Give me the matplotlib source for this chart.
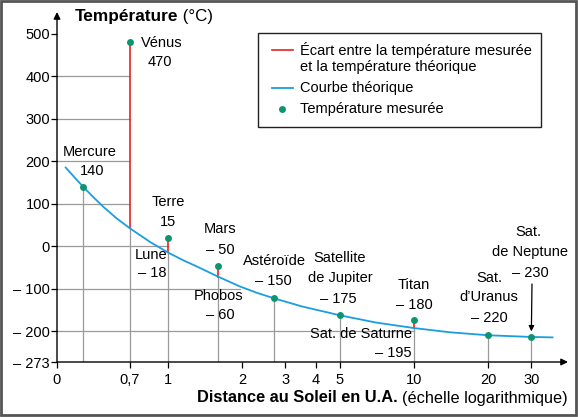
import matplotlib
matplotlib.use('Agg')
import matplotlib.pyplot as plt
from matplotlib.transforms import Affine2D
from matplotlib.patches import Rectangle
from matplotlib.lines import Line2D

plt.rcParams['font.family'] = ['Liberation Sans', 'DejaVu Sans']

# ---- data ----
dist = [0.45, 0.7, 1.0, 1.6, 2.7, 5.0, 10.0, 20.0, 30.0]
measured = [140, 482, 18, -47, -123, -163, -173, -210, -214]
curve_x = [0.384, 0.42, 0.45, 0.5, 0.55, 0.62, 0.7, 0.85, 1.0, 1.15, 1.3, 1.6, 1.96, 2.3, 2.7,
           3.5, 5.0, 7.0, 10.0, 14.0, 20.0, 30.0, 36.6]
curve_y = [185, 160, 141, 114, 91, 65, 42, 9, -15, -33, -47, -72, -95, -110, -123,
           -142, -163, -180, -193, -203, -210, -214, -215]
gap_x = [0.7, 1.0, 1.6, 10.0]
gap_meas = [482, 18, -47, -173]
gap_theo = [42, -15, -72, -193]
grid_y = [400, 300, 200, 100, 0, -100, -200]
grid_end = [0.7, 0.7, 0.7, 0.7, 1.0, 1.96, 10.0]
yticks = [500, 400, 300, 200, 100, 0, -100, -200, -273]
ytick_labels = ['500', '400', '300', '200', '100', '0', '– 100', '– 200', '– 273']
xticks = [0.7, 1, 2, 3, 4, 5, 10, 20, 30]
xtick_labels = ['0,7', '1', '2', '3', '4', '5', '10', '20', '30']

W, H = 578, 417
fig = plt.figure(figsize=(W / 100, H / 100), dpi=100)
pix = Affine2D().scale(1, -1).translate(0, H)

x0, x1, ytop, ybot = 57, 568, 12, 362
ax = fig.add_axes([x0 / W, (H - ybot) / H, (x1 - x0) / W, (ybot - ytop) / H])
ax.set_xscale('log')
xmin, xmax = 0.354, 42.3
ymin, ymax = -273, 551.5
ax.set_xlim(xmin, xmax)
ax.set_ylim(ymin, ymax)
for s in ax.spines.values():
    s.set_visible(False)

RED, BLUE, GREEN, GRAY = '#e52521', '#1a9ee0', '#0d9470', '#9a9a9a'

# grid lines
for gy, ge in zip(grid_y, grid_end):
    ax.plot([xmin, ge], [gy, gy], color=GRAY, lw=0.9, zorder=1)
# drop lines
for dx, dm in zip(dist, measured):
    top = dm
    if dx in gap_x:
        top = gap_theo[gap_x.index(dx)]
    ax.plot([dx, dx], [ymin, top], color=GRAY, lw=0.9, zorder=1)
# gaps
for gx, gm, gt in zip(gap_x, gap_meas, gap_theo):
    ax.plot([gx, gx], [gt, gm], color=RED, lw=1.2, zorder=2)
# curve
ax.plot(curve_x, curve_y, color=BLUE, lw=1.3, zorder=3)
# points
ax.plot(dist, measured, 'o', color=GREEN, ms=5, zorder=4, markeredgewidth=0)

# axes with arrows
ax.annotate('', xy=(1, 0), xytext=(0, 0), xycoords='axes fraction',
            arrowprops=dict(arrowstyle='-|>', color='black', lw=1.0, mutation_scale=10, shrinkA=0, shrinkB=0))
ax.annotate('', xy=(0, 1), xytext=(0, 0), xycoords='axes fraction',
            arrowprops=dict(arrowstyle='-|>', color='black', lw=1.0, mutation_scale=10, shrinkA=0, shrinkB=0))

ax.set_yticks(yticks)
ax.set_yticklabels(ytick_labels)
ax.set_xticks([xmin] + xticks)
ax.set_xticklabels(['0'] + xtick_labels)
ax.xaxis.set_minor_locator(matplotlib.ticker.NullLocator())
ax.tick_params(axis='both', labelsize=10.5, length=4, width=0.9, color='black')
ax.tick_params(axis='x', direction='out', pad=4)
ax.tick_params(axis='y', direction='out', pad=1)

# labels on points (pixel positions)
labels = [
    ('Vénus', 141, 43, 'left'), ('470', 160, 62, 'center'),
    ('Mercure', 90, 152, 'center'), ('140', 92, 171, 'center'),
    ('Terre', 168, 202, 'center'), ('15', 168, 222, 'center'),
    ('Lune', 151, 255, 'center'), ('– 18', 152, 273, 'center'),
    ('Mars', 220, 229, 'center'), ('– 50', 220, 250, 'center'),
    ('Phobos', 219, 296, 'center'), ('– 60', 220, 315, 'center'),
    ('Astéroïde', 274, 261, 'center'), ('– 150', 273, 281, 'center'),
    ('Satellite', 340, 258, 'center'), ('de Jupiter', 340, 278, 'center'),
    ('– 175', 338, 299, 'center'),
    ('Sat. de Saturne', 412, 334, 'right'), ('– 195', 412, 353, 'right'),
    ('Titan', 414, 285, 'center'), ('– 180', 414, 305, 'center'),
    ('Sat.', 489, 278, 'center'), ('d’Uranus', 489, 297, 'center'), ('– 220', 489, 318, 'center'),
    ('Sat.', 528, 232, 'center'), ('de Neptune', 530, 252, 'center'), ('– 230', 530, 273, 'center'),
]
for s, px, py, ha in labels:
    fig.text(px, py, s, transform=pix, ha=ha, va='center', fontsize=10.5)

# Neptune arrow
ax.annotate('', xy=(30, -214), xytext=(532, 284), textcoords=pix,
            arrowprops=dict(arrowstyle='-|>', color='black', lw=0.9, mutation_scale=8,
                            shrinkA=0, shrinkB=4))

# title
t1 = fig.text(75, 17, 'Température', transform=pix, ha='left', va='center',
              fontsize=12.4, fontweight='bold')
ax.annotate(' (°C)', xy=(1, 0), xycoords=t1, ha='left', va='bottom', fontsize=12.2)

# x label
t2 = fig.text(568, 398, '(échelle logarithmique)', transform=pix, ha='right', va='center', fontsize=11.7)
ax.annotate('Distance au Soleil en U.A. ', xy=(0, 0), xycoords=t2, ha='right', va='bottom',
            fontsize=11.8, fontweight='bold')

# legend box
fig.patches.append(Rectangle((258, 33), 283, 94, transform=pix, fill=False,
                             edgecolor='#222222', lw=1.0, figure=fig))
fig.lines.append(Line2D([272, 293], [50, 50], transform=pix, color=RED, lw=1.2, figure=fig))
fig.lines.append(Line2D([272, 293], [88, 88], transform=pix, color=BLUE, lw=1.3, figure=fig))
fig.lines.append(Line2D([282], [109], transform=pix, color=GREEN, marker='o', ms=5,
                        markeredgewidth=0, ls='none', figure=fig))
for s, py in [('Écart entre la température mesurée', 50), ('et la température théorique', 67),
              ('Courbe théorique', 88), ('Température mesurée', 109)]:
    fig.text(300, py, s, transform=pix, ha='left', va='center', fontsize=10.5)

# figure frame
fig.patches.append(Rectangle((1, 1), W - 3, H - 3, transform=pix, fill=False,
                             edgecolor='#555555', lw=2, figure=fig))

fig.savefig('out.png', dpi=100)
